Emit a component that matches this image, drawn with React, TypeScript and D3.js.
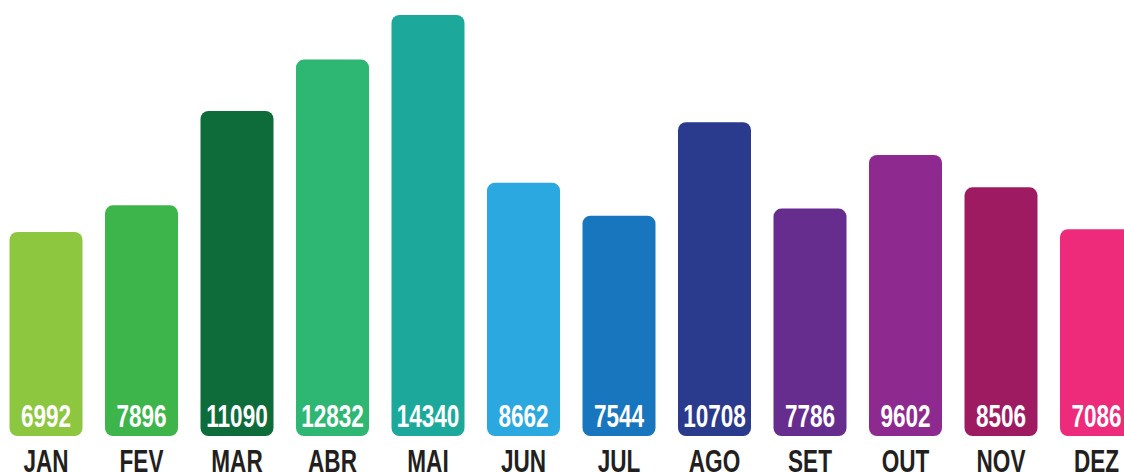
import React from "react";
import * as d3 from "d3";

const months = ["JAN", "FEV", "MAR", "ABR", "MAI", "JUN", "JUL", "AGO", "SET", "OUT", "NOV", "DEZ"];
const values = [6992, 7896, 11090, 12832, 14340, 8662, 7544, 10708, 7786, 9602, 8506, 7086];
const colors = ["#8dc63f", "#3db54a", "#0e6b3a", "#2eb673", "#1ca99b", "#2ca8e0", "#1776bd", "#2a3a8d", "#662d8f", "#8e2a8f", "#9e1b62", "#ee2a7b"];

const W = 1124;
const H = 472;
const BASE = 436;

export default function App() {
  const x = d3.scaleBand<string>().domain(months).range([-1.75, 1144.25]).paddingInner(0.2356).paddingOuter(0.1178);
  const y = d3.scaleLinear().domain([0, d3.max(values) as number]).range([438.5, 15]);
  const font = "'Liberation Sans Narrow', 'Arial Narrow', sans-serif";
  return (
    <svg width={W} height={H} style={{ position: "absolute", left: 0, top: 0, overflow: "hidden", background: "#fff" }}>
      {months.map((m, i) => {
        const x0 = x(m) as number;
        const bw = x.bandwidth();
        const top = y(values[i]);
        const cx = x0 + bw / 2;
        return (
          <g key={m}>
            <rect x={x0} y={top} width={bw} height={BASE - top} rx={8} ry={8} fill={colors[i]} />
            <text
              transform={`translate(${cx},427) scale(0.74,1)`}
              textAnchor="middle"
              fill="#fff"
              fontFamily={font}
              fontWeight="bold"
              fontSize={30.5}
            >
              {values[i]}
            </text>
            <text
              transform={`translate(${cx},472) scale(0.74,1)`}
              textAnchor="middle"
              fill="#231f20"
              fontFamily={font}
              fontWeight="bold"
              fontSize={30.5}
            >
              {m}
            </text>
          </g>
        );
      })}
    </svg>
  );
}
